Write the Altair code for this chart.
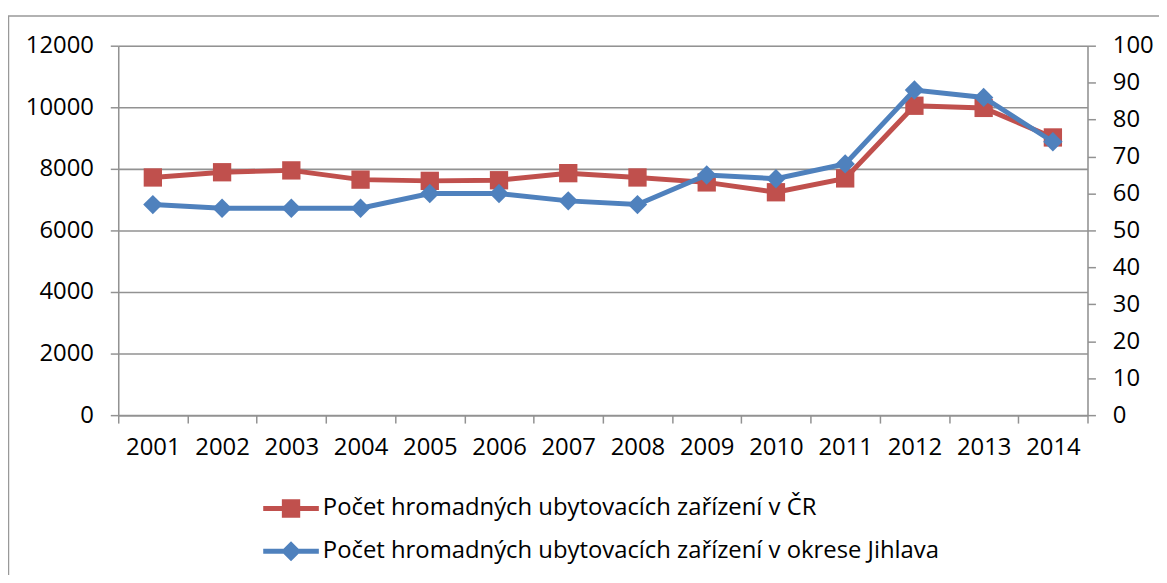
import altair as alt
import pandas as pd

years = [str(y) for y in range(2001, 2015)]
cr_values = [7720, 7890, 7950, 7650, 7610, 7630, 7860, 7720, 7560, 7240, 7690, 10050, 9980, 9020]
jihlava_values = [57, 56, 56, 56, 60, 60, 58, 57, 65, 64, 68, 88, 86, 74]
series_names = [
    "Počet hromadných ubytovacích zařízení v ČR",
    "Počet hromadných ubytovacích zařízení v okrese Jihlava",
]
colors = ["#C0504D", "#4F81BD"]
left_ticks = [0, 2000, 4000, 6000, 8000, 10000, 12000]
right_ticks = list(range(0, 101, 10))

FONT = "Open Sans"
FS = 24
GRAY = "#929292"

df = pd.DataFrame({
    "year": years * 2,
    "series": [series_names[0]] * len(years) + [series_names[1]] * len(years),
    "value": cr_values + jihlava_values,
})

# legend symbol shapes: line with marker
red_path = "M-1,-0.09H1V0.09H-1Z M-0.33,-0.33H0.33V0.33H-0.33Z"
blue_path = "M-1,-0.09H1V0.09H-1Z M0,-0.36L0.36,0L0,0.36L-0.36,0Z"

legend = alt.Legend(
    orient="none", legendX=146, legendY=438, direction="vertical", title=None,
    labelFont=FONT, labelFontSize=FS, labelColor="#000000", labelLimit=0,
    symbolSize=3136, labelOffset=4, rowPadding=3, padding=0,
    symbolStrokeWidth=0, symbolOpacity=1,
)

x = alt.X(
    "year:N", sort=years, bandPosition=0.5,
    scale=alt.Scale(type="band", paddingInner=0, paddingOuter=0),
    axis=alt.Axis(title=None, tickBand="extent", labelAngle=0, labelFont=FONT, labelFontSize=FS,
                  labelColor="#000000", labelPadding=13, tickSize=8, tickColor=GRAY, tickWidth=1.5,
                  domainColor=GRAY, domainWidth=1.5, grid=False),
)

base = alt.Chart(df)

y_left = alt.Y(
    "value:Q", scale=alt.Scale(domain=[0, 12000]),
    axis=alt.Axis(title=None, orient="left", values=left_ticks, format="d", grid=True,
                  gridColor=GRAY, gridWidth=1.6,
                  tickSize=8, tickColor=GRAY, tickWidth=1.5, domainColor=GRAY, domainWidth=1.5,
                  labelFont=FONT, labelFontSize=FS, labelColor="#000000", labelPadding=17),
)
y_right = alt.Y(
    "value:Q", scale=alt.Scale(domain=[0, 100]),
    axis=alt.Axis(title=None, orient="right", values=right_ticks, format="d", grid=False,
                  tickSize=8, tickColor=GRAY, tickWidth=1.5, domainColor=GRAY, domainWidth=1.5,
                  labelFont=FONT, labelFontSize=FS, labelColor="#000000", labelPadding=17),
)

red = base.transform_filter(alt.datum.series == series_names[0])
blue = base.transform_filter(alt.datum.series == series_names[1])

red_layer = alt.layer(
    red.mark_line(strokeWidth=5, color=colors[0]).encode(x=x, y=y_left),
    red.mark_point(shape="square", filled=True, size=340, opacity=1, color=colors[0]).encode(x=x, y=y_left),
)
blue_layer = alt.layer(
    blue.mark_line(strokeWidth=5, color=colors[1]).encode(x=x, y=y_right),
    blue.mark_point(shape="diamond", filled=True, size=380, opacity=1, color=colors[1]).encode(x=x, y=y_right),
)

# legend-only layer (draws no marks; its scales carry the legend)
legend_layer = base.transform_filter("false").mark_point(filled=True, opacity=1).encode(
    x=x,
    y=y_left,
    color=alt.Color("series:N", scale=alt.Scale(domain=series_names, range=colors), legend=legend),
    shape=alt.Shape("series:N", scale=alt.Scale(domain=series_names, range=[red_path, blue_path]), legend=legend),
)

frame = alt.Chart(pd.DataFrame({"f": [0]})).mark_rect(fillOpacity=0, stroke="#999999", strokeWidth=1.5).encode(
    x=alt.value(-110.5), x2=alt.value(1100), y=alt.value(-30), y2=alt.value(700)
)

chart = alt.layer(frame, alt.layer(red_layer, legend_layer), blue_layer).resolve_scale(y="independent").properties(
    width=976, height=372,
    autosize=alt.AutoSizeParams(type="none"),
    padding={"left": 111, "top": 36, "right": 72, "bottom": 159},
).configure_view(strokeWidth=0).configure(background="#ffffff")

chart.save("out.html", embed_options={"renderer": "svg", "actions": False})
